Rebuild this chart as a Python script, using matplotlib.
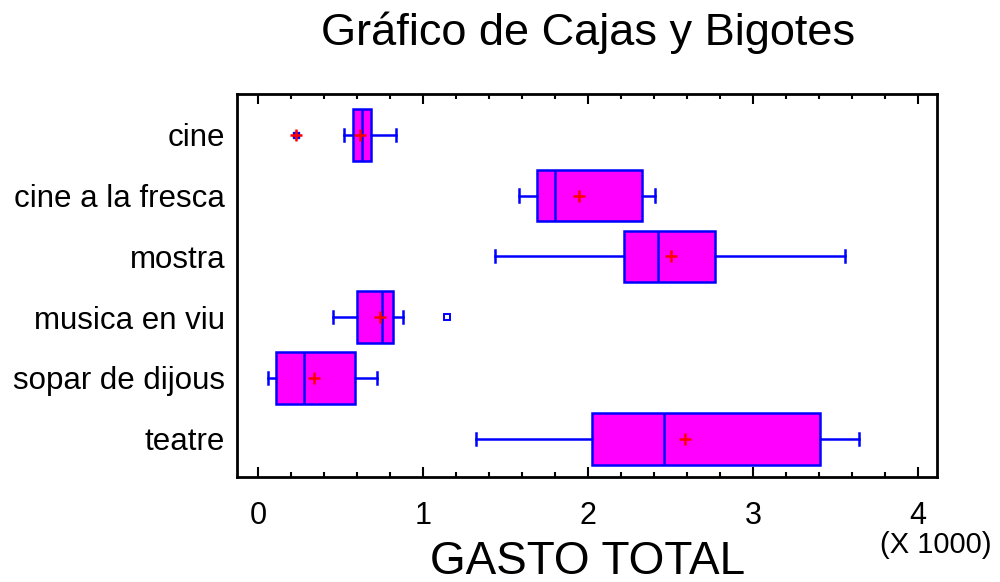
import matplotlib
matplotlib.use('Agg')
import matplotlib.pyplot as plt
from matplotlib.ticker import MultipleLocator, FuncFormatter

# box-and-whisker summary per activity (GASTO TOTAL)
categorias = ["cine", "cine a la fresca", "mostra", "musica en viu",
              "sopar de dijous", "teatre"]
bigote_min = [523, 1582, 1435, 456, 59, 1318]
cuartil_1 = [575, 1691, 2219, 601, 110, 2021]
mediana = [631, 1800, 2422, 748, 281, 2462]
cuartil_3 = [684, 2327, 2768, 817, 589, 3405]
bigote_max = [837, 2406, 3560, 881, 720, 3645]
media = [615, 1945, 2500, 738, 337, 2585]
atipicos = [[], [], [], [1145], [], []]
atipicos_lejanos = [[231], [], [], [], [], []]


def main():
    plt.rcParams['font.family'] = ['Liberation Sans', 'DejaVu Sans']
    fig = plt.figure(figsize=(10, 5.82), dpi=100)
    ax = fig.add_axes([0.237, 0.1804, 0.700, 0.658])

    stats = []
    for i, nombre in enumerate(categorias):
        stats.append(dict(label=nombre, whislo=bigote_min[i], q1=cuartil_1[i],
                          med=mediana[i], q3=cuartil_3[i], whishi=bigote_max[i],
                          mean=media[i], fliers=atipicos[i]))

    posiciones = list(range(1, len(categorias) + 1))
    azul = '#0000ff'
    ax.bxp(stats, positions=posiciones, vert=False, widths=0.85,
           patch_artist=True, showmeans=True, showfliers=True,
           boxprops=dict(facecolor='#ff00ff', edgecolor=azul, linewidth=1.8),
           medianprops=dict(color=azul, linewidth=1.8),
           whiskerprops=dict(color=azul, linewidth=1.8),
           capprops=dict(color=azul, linewidth=1.8),
           capwidths=0.2,
           meanprops=dict(marker='+', markeredgecolor='red', markersize=8,
                          markeredgewidth=1.8),
           flierprops=dict(marker='s', markerfacecolor='white',
                           markeredgecolor=azul, markersize=4,
                           markeredgewidth=1.4))

    # far outliers: filled square with a red cross
    for pos, vals in zip(posiciones, atipicos_lejanos):
        for v in vals:
            ax.plot(v, pos, marker='s', color=azul, markersize=5, zorder=4)
            ax.plot(v, pos, marker='+', color='red', markersize=8,
                    markeredgewidth=1.8, zorder=5)

    ax.set_xlim(-128, 4115)
    ax.set_ylim(6.63, 0.33)
    ax.set_yticks(posiciones)
    ax.set_yticklabels(categorias, fontsize=22.5)
    ax.tick_params(axis='y', length=0, pad=8.5)

    ax.xaxis.set_major_locator(MultipleLocator(1000))
    ax.xaxis.set_minor_locator(MultipleLocator(200))
    ax.xaxis.set_major_formatter(FuncFormatter(lambda v, p: f"{v / 1000:g}"))
    ax.tick_params(axis='x', which='both', direction='in', top=True,
                   labelsize=22, pad=17, width=1.5)
    ax.tick_params(axis='x', which='major', length=7)
    ax.tick_params(axis='x', which='minor', length=3.5)

    for s in ax.spines.values():
        s.set_linewidth(2)

    fig.text(0.588, 0.943, "Gráfico de Cajas y Bigotes", ha='center',
             va='center', fontsize=32.5)
    fig.text(0.588, 0.035, "GASTO TOTAL", ha='center', va='center',
             fontsize=33)
    fig.text(0.936, 0.064, "(X 1000)", ha='center', va='center', fontsize=21)

    fig.savefig("out.png", dpi=100)


if __name__ == "__main__":
    main()
